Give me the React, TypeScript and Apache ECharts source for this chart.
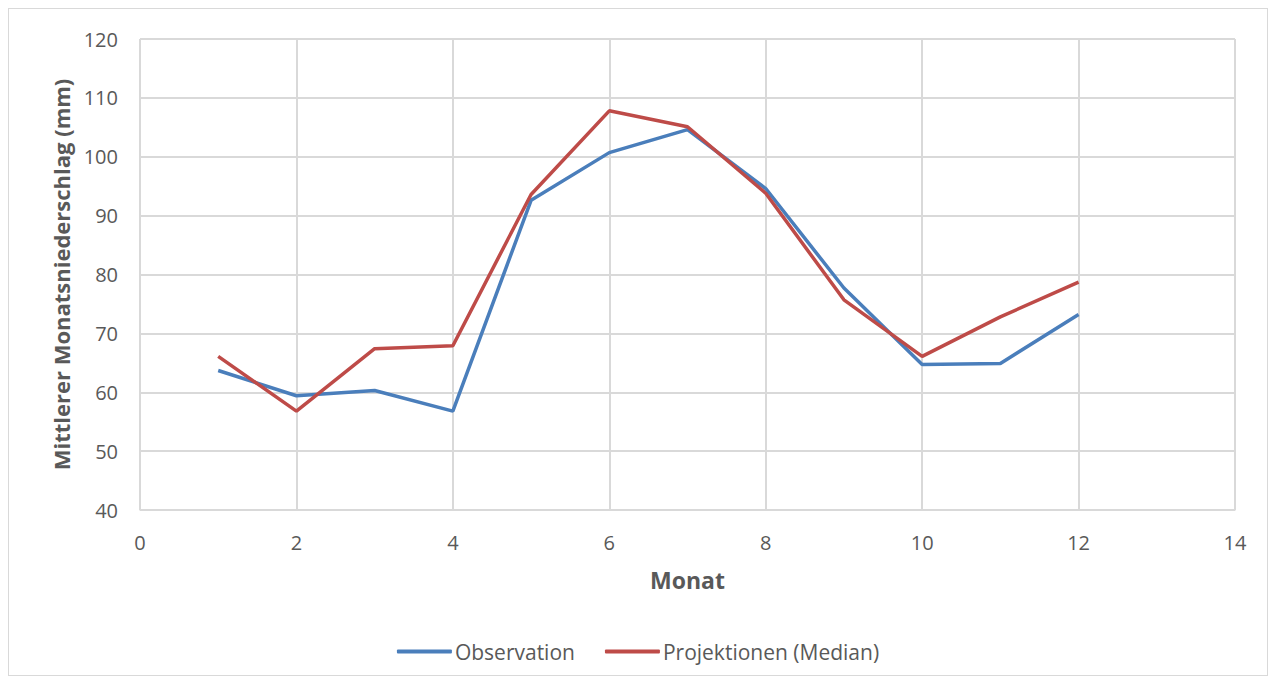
import React, { useEffect, useRef } from "react";
import * as echarts from "echarts";

const months = [1, 2, 3, 4, 5, 6, 7, 8, 9, 10, 11, 12];
const observation = [63.7, 59.4, 60.3, 56.8, 92.6, 100.7, 104.6, 94.6, 77.7, 64.7, 64.9, 73.2];
const projektionen = [66.1, 56.8, 67.4, 67.9, 93.6, 107.8, 105.1, 93.8, 75.7, 66.1, 72.8, 78.7];
const seriesNames = ["Observation", "Projektionen (Median)"];
const xTitle = "Monat";
const yTitle = "Mittlerer Monatsniederschlag (mm)";

export default function App() {
  const ref = useRef<HTMLDivElement>(null);
  useEffect(() => {
    if (!ref.current) return;
    const chart = echarts.init(ref.current, undefined, { renderer: "svg" });
    const font = "'Open Sans', 'Liberation Sans', sans-serif";
    chart.setOption({
      animation: false,
      textStyle: { fontFamily: font },
      grid: { left: 131, right: 32, top: 30, bottom: 165, containLabel: false },
      legend: {
        bottom: 8,
        left: "center",
        itemWidth: 55,
        itemHeight: 4,
        itemGap: 30,
        icon: "roundRect",
        textStyle: { color: "#595959", fontSize: 21, fontFamily: font, padding: [0, 0, 0, -2] },
        data: seriesNames,
      },
      xAxis: {
        type: "value",
        min: 0,
        max: 14,
        interval: 2,
        name: xTitle,
        nameLocation: "middle",
        nameGap: 58,
        nameTextStyle: { color: "#595959", fontSize: 23, fontWeight: "bold", fontFamily: font },
        axisLine: { show: true, lineStyle: { color: "#d9d9d9", width: 1 } },
        axisTick: { show: false },
        axisLabel: { color: "#595959", fontSize: 20, margin: 22, fontFamily: font },
        splitLine: { show: true, lineStyle: { color: "#d9d9d9", width: 2 } },
      },
      yAxis: {
        type: "value",
        min: 40,
        max: 120,
        interval: 10,
        name: yTitle,
        nameLocation: "middle",
        nameGap: 68,
        nameTextStyle: { color: "#595959", fontSize: 22, fontWeight: "bold", fontFamily: font },
        axisLine: { show: true, lineStyle: { color: "#d9d9d9", width: 1 } },
        axisTick: { show: false },
        axisLabel: { color: "#595959", fontSize: 20, margin: 22, fontFamily: font },
        splitLine: { show: true, lineStyle: { color: "#d9d9d9", width: 2 } },
      },
      series: [
        {
          name: seriesNames[0],
          type: "line",
          symbol: "none",
          data: months.map((m, i) => [m, observation[i]]),
          lineStyle: { color: "#4a7ebb", width: 3.5 },
          itemStyle: { color: "#4a7ebb" },
        },
        {
          name: seriesNames[1],
          type: "line",
          symbol: "none",
          data: months.map((m, i) => [m, projektionen[i]]),
          lineStyle: { color: "#be4b48", width: 3.5 },
          itemStyle: { color: "#be4b48" },
        },
      ],
    });
    return () => chart.dispose();
  }, []);
  return (
    <div
      ref={ref}
      style={{ width: 1258, height: 666, border: "1px solid #d9d9d9", background: "#fff" }}
    />
  );
}
